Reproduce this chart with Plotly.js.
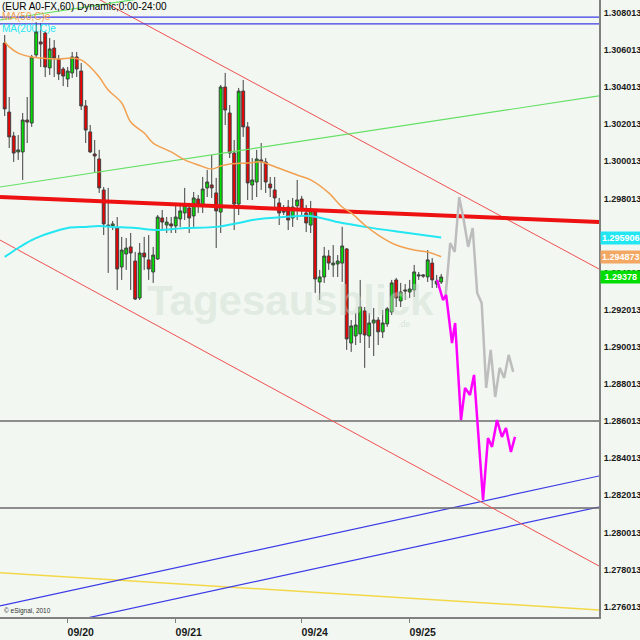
<!DOCTYPE html>
<html><head><meta charset="utf-8">
<script src="https://cdn.plot.ly/plotly-3.0.1.min.js"></script>
<style>html,body{margin:0;padding:0;background:#f2f7f2}#chart{width:640px;height:640px}</style>
</head><body><div id="chart"></div>
<script>
// hourly bars (bar index; weekend hours removed)
const barCount = 98;
const bars = Array.from({length: barCount}, (_, i) => i);
const dateTickBars = [14, 38, 66, 90];
const dateTickLabels = ['09/20', '09/21', '09/24', '09/25'];

const open = [1.30639,1.30267,1.30138,1.30052,1.30052,1.30224,1.30208,1.30575,1.30645,1.30693,
1.30505,1.30612,1.30553,1.30499,1.30445,1.30478,1.30564,1.30488,1.303,1.3016,
1.30041,1.30014,1.29847,1.29658,1.29653,1.29642,1.29432,1.29502,1.2954,1.29464,
1.29265,1.29507,1.2947,1.29405,1.29475,1.29696,1.29658,1.29664,1.29653,1.29691,
1.29723,1.2975,1.29707,1.29798,1.29766,1.29858,1.29874,1.29831,1.29728,1.30402,
1.30262,1.30046,1.29771,1.3038,1.30187,1.29874,1.2989,1.30009,1.29998,1.29879,
1.29847,1.29777,1.29734,1.29755,1.29696,1.29761,1.29798,1.29723,1.29658,1.29734,
1.29351,1.29378,1.29491,1.29443,1.29448,1.29453,1.29529,1.29022,1.2906,1.29071,
1.29195,1.2906,1.2913,1.29146,1.29082,1.29125,1.29189,1.29362,1.29249,1.29308,
1.29297,1.29308,1.29383,1.29389,1.29378,1.29453,1.2934,1.29351];
const high = [1.30682,1.30348,1.3016,1.30143,1.30262,1.30348,1.30575,1.30752,1.30747,1.30699,
1.30666,1.30655,1.30575,1.3051,1.3051,1.30591,1.30591,1.30531,1.30332,1.30197,
1.30116,1.30063,1.29863,1.29858,1.2968,1.29701,1.29594,1.29588,1.29615,1.29513,
1.29561,1.29594,1.29604,1.2954,1.29712,1.29739,1.29701,1.29701,1.29777,1.29777,
1.29858,1.29777,1.29836,1.2982,1.29917,1.29955,1.30036,1.29912,1.30413,1.30478,
1.30305,1.30116,1.30397,1.3044,1.30213,1.30019,1.30063,1.301,1.30019,1.29917,
1.29917,1.29804,1.29766,1.29793,1.29804,1.29901,1.29815,1.29766,1.29788,1.29739,
1.29416,1.2954,1.29523,1.2955,1.29496,1.29648,1.29534,1.29146,1.29184,1.29362,
1.29216,1.29184,1.29211,1.29162,1.292,1.29216,1.29362,1.29373,1.29346,1.2934,
1.29362,1.29443,1.29405,1.29394,1.29523,1.2948,1.29389,1.29394];
const low = [1.30246,1.30073,1.29998,1.30009,1.29901,1.301,1.30187,1.30564,1.3051,1.30456,
1.30467,1.30456,1.3044,1.30407,1.30402,1.30451,1.30456,1.30278,1.301,1.30046,
1.29939,1.29831,1.29604,1.294,1.29631,1.29308,1.29362,1.29416,1.29308,1.29254,
1.29254,1.29416,1.29362,1.29346,1.2947,1.29631,1.29615,1.29615,1.29615,1.29648,
1.29685,1.29615,1.29648,1.29723,1.29723,1.29809,1.29804,1.29534,1.29615,1.30197,
1.30019,1.29631,1.29712,1.30133,1.29793,1.29793,1.29809,1.29847,1.29831,1.29809,
1.29755,1.29658,1.29712,1.29631,1.29648,1.29685,1.29712,1.2962,1.29615,1.29292,
1.29254,1.29346,1.29416,1.29378,1.29378,1.29351,1.28985,1.28974,1.29011,1.29022,
1.28888,1.28995,1.28952,1.29011,1.29049,1.29109,1.29173,1.29216,1.29216,1.29254,
1.29265,1.2927,1.29362,1.29373,1.29351,1.29319,1.29319,1.2934];
const close = [1.30284,1.30133,1.30046,1.30063,1.30224,1.30213,1.30564,1.30699,1.30634,1.3051,
1.30607,1.30558,1.30472,1.30461,1.30488,1.30564,1.30499,1.303,1.3017,1.30052,
1.3003,1.29858,1.29664,1.29653,1.29664,1.29421,1.29523,1.29534,1.29507,1.29259,
1.29507,1.29486,1.29421,1.29496,1.29701,1.29674,1.29674,1.29653,1.29701,1.29734,
1.29766,1.29696,1.29804,1.29766,1.29852,1.2989,1.29858,1.29734,1.30402,1.30278,
1.30046,1.29771,1.3038,1.30187,1.29885,1.29901,1.30014,1.29998,1.2989,1.29858,
1.29804,1.29723,1.29728,1.29685,1.29755,1.29793,1.29739,1.29669,1.29734,1.29367,
1.29378,1.29491,1.29453,1.29453,1.29464,1.29545,1.29044,1.29114,1.29119,1.29216,
1.29065,1.2913,1.29146,1.29082,1.2913,1.29206,1.29346,1.29265,1.29297,1.29303,
1.29313,1.29405,1.29389,1.29383,1.2947,1.29362,1.29356,1.29378];

// moving averages
const ma50Bars = [0,1,3,6,8,12,15,17,19,21,23,26,28,31,33,37,40,43,46,48,50,54,57,59,62,65,68,72,75,77,80,83,87,91,94,97];
const ma50 = [1.30645,1.30618,1.30585,1.30564,1.30558,1.30553,1.30558,1.30548,1.3051,1.30456,
1.30386,1.30316,1.30213,1.30154,1.301,1.30052,1.30009,1.29982,1.2996,1.29976,
1.29987,1.29992,1.29998,1.29982,1.29955,1.29928,1.29901,1.29831,1.29755,1.29723,
1.29658,1.29604,1.2955,1.29523,1.29513,1.29487];
const ma200Bars = [0,3,6,10,14,18,21,24,29,34,40,47,52,55,62,68,74,80,88,97];
const ma200 = [1.29486,1.29534,1.29577,1.29615,1.29642,1.29648,1.29653,1.29648,1.29642,1.29631,
1.29642,1.29648,1.29669,1.29685,1.29701,1.29707,1.29674,1.29648,1.2962,1.29591];

// projected paths
const grayBars = [98,99,100,101,102,103,104,105,106,107,108,109,110,111,112,113];
const grayPath = [1.29281,1.29561,1.29513,1.29809,1.29685,1.2954,1.29642,1.29292,1.29238,1.2878,1.28985,1.28731,1.28888,1.28834,1.28958,1.28866];
const magentaBars = [96.1,97.4,98.1,99.4,100.1,101.4,102.3,103.4,104.3,106.3,107.4,108.3,109.4,110.5,111.4,112.5,113.4];
const magentaPath = [1.29362,1.29254,1.29281,1.29022,1.2913,1.28607,1.2878,1.28742,1.2885,1.28176,1.2851,1.28462,1.28607,1.28516,1.28564,1.28435,1.28516];

// drawn lines: [bar0, price0, bar1, price1]
const xL = -1.044, xR = 132.07;
const redThick   = [xL, 1.29809, xR, 1.29674];
const redUpper   = [10.07, 1.31017, xR, 1.29421];
const redLower   = [xL, 1.29577, xR, 1.27820];
const greenMain  = [xL, 1.29863, xR, 1.30354];
const greenTop   = [xL, 1.30763, xR, 1.31254];
const blueTop1   = [xL, 1.30779, xR, 1.30779];
const blueTop2   = [xL, 1.30742, xR, 1.30742];
const blueA      = [xL, 1.27605, xR, 1.28305];
const blueB      = [xL, 1.27438, xR, 1.28138];
const grayH1     = [xL, 1.286013, xR, 1.286013];
const grayH2     = [xL, 1.28133, xR, 1.28133];
const yellowLine = [xL, 1.27783, xR, 1.27583];

const yTickVals = [1.276013,1.278013,1.280013,1.282013,1.284013,1.286013,1.288013,1.290013,1.292013,1.294013,1.296013,1.298013,1.300013,1.302013,1.304013,1.306013,1.308013];
const yTickText = ['1.276013','1.278013','1.280013','1.282013','1.284013','1.286013','1.288013','1.290013','1.292013','1.294013','1.296013','1.298013','1.300013','1.302013','1.304013','1.306013','1.308013'];

const lastLabels = [
  {value: 1.295906, text: '1.295906', bg: '#22e6f2'},
  {value: 1.294873, text: '1.294873', bg: '#f2a862'},
  {value: 1.29378,  text: ' 1.29378 ', bg: '#00dd00'}
];

function seg(s, color, width) {
  return {type:'scatter', mode:'lines', x:[s[0], s[2]], y:[s[1], s[3]],
    line:{color:color, width:width}, hoverinfo:'skip'};
}

const traces = [
  seg(yellowLine, '#f2d848', 1.5),
  seg(blueA, '#3c3ce6', 1.2),
  seg(blueB, '#3c3ce6', 1.2),
  seg(grayH1, '#6a6a6a', 1.5),
  seg(grayH2, '#6a6a6a', 1.5),
  seg(redLower, '#f05050', 1),
  seg(redUpper, '#f05050', 1),
  seg(greenMain, '#66e066', 1.2),
  seg(greenTop, '#66e066', 1.2),
  seg(blueTop1, '#3c3ce6', 1.2),
  seg(blueTop2, '#3c3ce6', 1.2),
  seg(redThick, '#ee1111', 4),
  {type:'scatter', mode:'lines', x:ma200Bars, y:ma200, line:{color:'#22e6f2', width:2, shape:'spline'}, hoverinfo:'skip'},
  {type:'scatter', mode:'lines', x:ma50Bars, y:ma50, line:{color:'#f2a050', width:1.5, shape:'spline'}, hoverinfo:'skip'},
  {type:'candlestick', x:bars, open:open, high:high, low:low, close:close,
    increasing:{line:{color:'#404040', width:1}, fillcolor:'#00dd00'},
    decreasing:{line:{color:'#404040', width:1}, fillcolor:'#ee0000'},
    whiskerwidth:0, hoverinfo:'skip'},
  {type:'scatter', mode:'lines', x:grayBars, y:grayPath, line:{color:'#bdbdbd', width:2.5}, hoverinfo:'skip'},
  {type:'scatter', mode:'lines', x:magentaBars, y:magentaPath, line:{color:'#ff00ff', width:2.5}, hoverinfo:'skip'}
];

const yTickFont = {family:'Liberation Sans, Arial', size:9, color:'#1a1a1a', weight:'bold'};
const xTickFont = {family:'Liberation Sans, Arial', size:10.5, color:'#1a1a1a', weight:'bold'};

const annotations = [
  {xref:'paper', yref:'paper', x:0, y:1, xanchor:'left', yanchor:'top', yshift:1, showarrow:false,
   text:'(EUR A0-FX,60) Dynamic;0:00-24:00', font:{family:'Liberation Sans, Arial', size:10, color:'#000'}},
  {xref:'paper', yref:'paper', x:0, y:1-17/617, xanchor:'left', yanchor:'middle', showarrow:false,
   text:'MA(50,C)e', font:{family:'Liberation Sans, Arial', size:10, color:'#f2a050'}},
  {xref:'paper', yref:'paper', x:0, y:1-29/617, xanchor:'left', yanchor:'middle', showarrow:false,
   text:'MA(200,C)e', font:{family:'Liberation Sans, Arial', size:10, color:'#22e6f2'}},
  {xref:'paper', yref:'paper', x:290/599, y:1-300/617, xanchor:'center', yanchor:'middle', showarrow:false,
   text:'Tagesausblick', font:{family:'Liberation Sans, Arial', size:42, color:'rgba(205,220,205,0.45)', weight:'bold'}},
  {xref:'paper', yref:'paper', x:404/599, y:1-324/617, xanchor:'center', yanchor:'middle', showarrow:false,
   text:'.de', font:{family:'Liberation Sans, Arial', size:9, color:'rgba(205,220,205,0.7)'}},
  {xref:'paper', yref:'paper', x:2/599, y:1-611/617, xanchor:'left', yanchor:'middle', showarrow:false,
   text:'© eSignal, 2010', font:{family:'Liberation Sans, Arial', size:6.5, color:'#333'}}
];
lastLabels.forEach(l => annotations.push({
  xref:'paper', yref:'y', x:1, y:l.value, xanchor:'left', yanchor:'middle', xshift:1, showarrow:false,
  text:l.text, bgcolor:l.bg, borderpad:1,
  font:{family:'Liberation Sans, Arial', size:9, color:'#ffffff', weight:'bold'}
}));

const layout = {
  width:640, height:640,
  margin:{l:0, r:41, t:0, b:23},
  paper_bgcolor:'#f2f7f2', plot_bgcolor:'#f2f7f2',
  showlegend:false, boxgap:0.08,
  xaxis:{range:[xL, xR], tickmode:'array', tickvals:dateTickBars, ticktext:dateTickLabels,
    showgrid:false, zeroline:false, showline:true, linecolor:'#808080', linewidth:2,
    ticks:'outside', ticklen:4, tickcolor:'#808080', tickfont:xTickFont,
    ticklabelshift:13, rangeslider:{visible:false}, fixedrange:true},
  yaxis:{range:[1.27545, 1.30871], side:'right', tickmode:'array', tickvals:yTickVals, ticktext:yTickText,
    showgrid:false, zeroline:false, showline:true, linecolor:'#808080', linewidth:2,
    ticks:'', ticklabelstandoff:1, tickfont:yTickFont, fixedrange:true},
  annotations:annotations
};

Plotly.newPlot('chart', traces, layout, {displayModeBar:false, staticPlot:true});
</script></body></html>
